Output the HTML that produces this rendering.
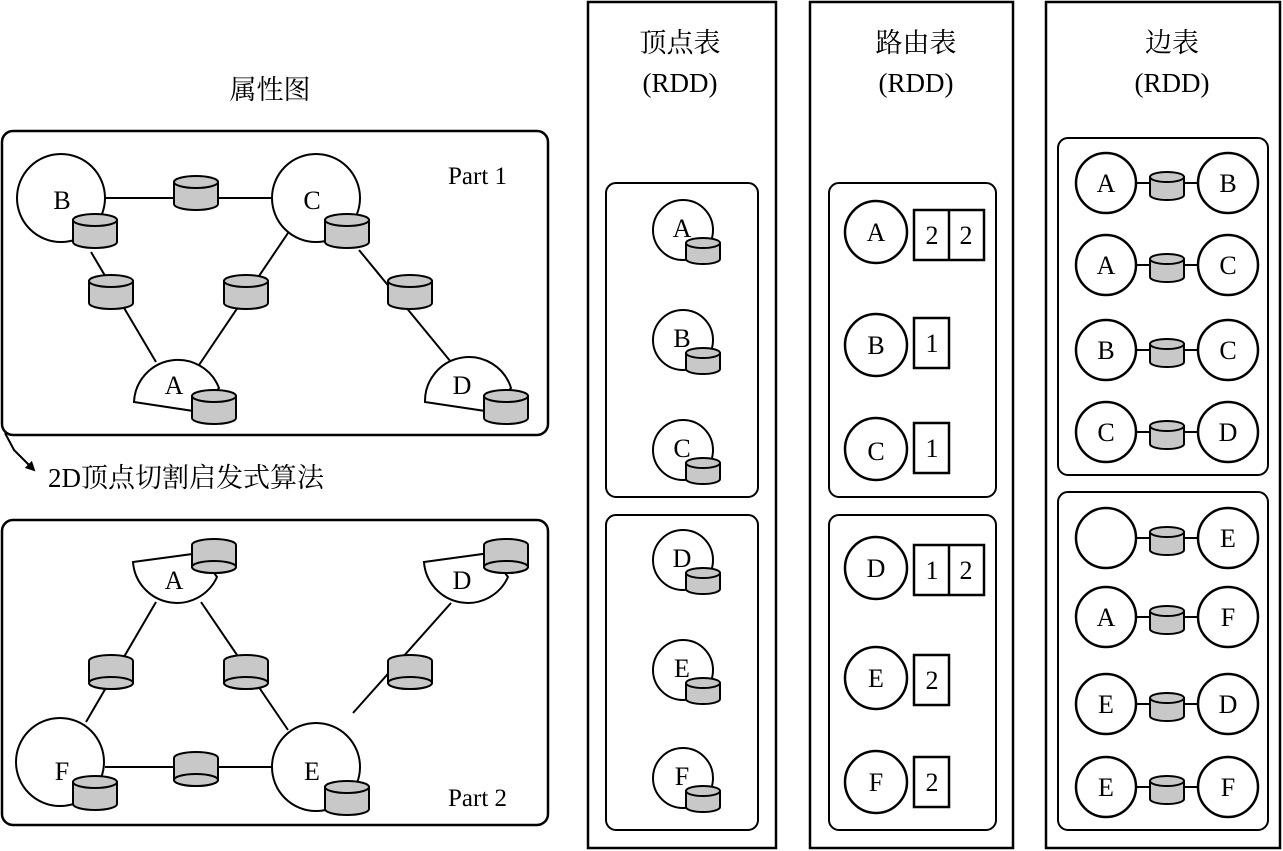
<!DOCTYPE html>
<html><head><meta charset="utf-8"><style>
html,body{margin:0;padding:0;background:#fff;}
svg{display:block;}
text{font-family:"Liberation Serif","Noto Serif CJK SC",serif;fill:#000;}
.cn{font-family:"Liberation Serif","Noto Serif CJK SC","Noto Sans CJK SC",serif;}
</style></head><body>
<svg width="1283" height="851" viewBox="0 0 1283 851" xmlns="http://www.w3.org/2000/svg">
<defs>
<g id="cy"><path d="M-22,-11 V11 A22,6 0 0 0 22,11 V-11 Z" fill="#c8c8c8" stroke="#000" stroke-width="2"/><ellipse cx="0" cy="-11" rx="22" ry="6" fill="#c8c8c8" stroke="#000" stroke-width="2"/></g>
<g id="cyb"><path d="M-22,-11 A22,6 0 0 1 22,-11 V11 A22,6 0 0 1 -22,11 Z" fill="#c8c8c8" stroke="#000" stroke-width="2"/><ellipse cx="0" cy="11" rx="22" ry="6" fill="#c8c8c8" stroke="#000" stroke-width="2"/></g>
<g id="cs"><path d="M-17,-8 V8 A17,5 0 0 0 17,8 V-8 Z" fill="#c8c8c8" stroke="#000" stroke-width="2"/><ellipse cx="0" cy="-8" rx="17" ry="5" fill="#c8c8c8" stroke="#000" stroke-width="2"/></g>
<g id="ce"><path d="M-17,-9 V9 A17,5 0 0 0 17,9 V-9 Z" fill="#c8c8c8" stroke="#000" stroke-width="2"/><ellipse cx="0" cy="-9" rx="17" ry="5" fill="#c8c8c8" stroke="#000" stroke-width="2"/></g>
<marker id="ah" markerWidth="10" markerHeight="10" refX="8" refY="5" orient="auto" markerUnits="userSpaceOnUse"><path d="M0,0 L10,5 L0,10 Z" fill="#000"/></marker>
</defs>
<g fill="none" stroke="#000" stroke-width="2">
<!-- left boxes -->
<rect x="2" y="131" width="546" height="304" rx="11" stroke-width="2.5"/>
<rect x="2" y="520" width="546" height="305" rx="11" stroke-width="2.5"/>
<!-- columns -->
<rect x="588" y="2" width="188" height="846" stroke-width="2.5"/>
<rect x="810" y="2" width="203" height="846" stroke-width="2.5"/>
<rect x="1046" y="2" width="234" height="846" stroke-width="2.5"/>
<rect x="606" y="183" width="152" height="314" rx="10"/>
<rect x="606" y="515" width="152" height="315" rx="10"/>
<rect x="829" y="183" width="167" height="314" rx="10"/>
<rect x="829" y="515" width="167" height="315" rx="10"/>
<rect x="1058" y="138" width="210" height="337" rx="10"/>
<rect x="1058" y="492" width="210" height="338" rx="10"/>
<!-- part1 lines -->
<line x1="105" y1="198" x2="272" y2="198"/>
<line x1="91" y1="252" x2="156" y2="362"/>
<line x1="288" y1="233" x2="199" y2="365"/>
<line x1="359" y1="250" x2="451" y2="362"/>
<!-- part2 lines -->
<line x1="156" y1="602" x2="86" y2="722"/>
<line x1="201" y1="602" x2="288" y2="730"/>
<line x1="451" y1="603" x2="353" y2="713"/>
<line x1="105" y1="767" x2="272" y2="767"/>
<!-- arrow -->
<path d="M5,433 L14,450 L34,470" marker-end="url(#ah)"/>
</g>
<g fill="#fff" stroke="#000" stroke-width="2">
<circle cx="61" cy="198" r="44"/>
<circle cx="316" cy="198" r="44"/>
<path d="M134,402 A44,44 0 0 1 219,388 L200,412 Z"/>
<path d="M425,402 A44,44 0 0 1 511,388 L492,412 Z"/>
<path d="M133,562 L200,553 L217,577 A44,44 0 0 1 133,562 Z"/>
<path d="M424,562 L490,553 L508,577 A44,44 0 0 1 424,562 Z"/>
<circle cx="60" cy="762" r="44"/>
<circle cx="316" cy="767" r="44"/>
</g>
<use href="#cy" x="196" y="193"/><use href="#cy" x="95" y="231"/><use href="#cy" x="347" y="231"/>
<use href="#cy" x="111" y="292"/><use href="#cy" x="246" y="292"/><use href="#cy" x="410" y="292"/>
<use href="#cy" x="214" y="407"/><use href="#cy" x="506" y="407"/>
<use href="#cyb" x="214" y="556"/><use href="#cyb" x="506" y="556"/>
<use href="#cyb" x="111" y="672"/><use href="#cyb" x="246" y="672"/><use href="#cyb" x="410" y="672"/>
<use href="#cyb" x="196" y="769"/>
<use href="#cy" x="95" y="793"/><use href="#cy" x="347" y="798"/>
<g font-size="26" text-anchor="middle">
<text x="62" y="209">B</text><text x="312" y="209">C</text>
<text x="174" y="394">A</text><text x="462" y="394">D</text>
<text x="174" y="589">A</text><text x="462" y="589">D</text>
<text x="62" y="780">F</text><text x="312" y="780">E</text>
</g>
<text x="448" y="184" font-size="25">Part 1</text>
<text x="448" y="806" font-size="25">Part 2</text>
<text x="270" y="99" font-size="27" text-anchor="middle" class="cn">属性图</text>
<text x="48" y="487" font-size="27" class="cn">2D顶点切割启发式算法</text>
<!-- column titles -->
<g font-size="27" text-anchor="middle" class="cn">
<text x="680" y="52">顶点表</text><text x="680" y="92">(RDD)</text>
<text x="916" y="52">路由表</text><text x="916" y="92">(RDD)</text>
<text x="1172" y="52">边表</text><text x="1172" y="92">(RDD)</text>
</g>
<!-- vertex table -->
<g fill="#fff" stroke="#000" stroke-width="2">
<circle cx="683" cy="230" r="30"/><circle cx="683" cy="340" r="30"/><circle cx="683" cy="450" r="30"/>
<circle cx="683" cy="560" r="30"/><circle cx="683" cy="670" r="30"/><circle cx="683" cy="778" r="30"/>
</g>
<use href="#cs" x="703" y="251"/><use href="#cs" x="703" y="361"/><use href="#cs" x="703" y="471"/>
<use href="#cs" x="703" y="581"/><use href="#cs" x="703" y="691"/><use href="#cs" x="703" y="799"/>
<g font-size="26" text-anchor="middle">
<text x="682" y="237">A</text><text x="682" y="347">B</text><text x="682" y="457">C</text>
<text x="682" y="567">D</text><text x="682" y="677">E</text><text x="682" y="785">F</text>
</g>
<!-- routing table -->
<g fill="#fff" stroke="#000" stroke-width="2.5">
<circle cx="876" cy="232" r="31"/><circle cx="876" cy="345" r="31"/><circle cx="876" cy="449" r="31"/>
<circle cx="876" cy="568" r="31"/><circle cx="876" cy="678" r="31"/><circle cx="876" cy="782" r="31"/>
<rect x="914" y="210" width="70" height="50"/><line x1="949" y1="210" x2="949" y2="260"/>
<rect x="914" y="318" width="35" height="50"/>
<rect x="914" y="423" width="35" height="50"/>
<rect x="914" y="545" width="70" height="50"/><line x1="949" y1="545" x2="949" y2="595"/>
<rect x="914" y="655" width="35" height="50"/>
<rect x="914" y="757" width="35" height="50"/>
</g>
<g font-size="26" text-anchor="middle">
<text x="876" y="241">A</text><text x="876" y="354">B</text><text x="876" y="460">C</text>
<text x="876" y="577">D</text><text x="876" y="687">E</text><text x="876" y="791">F</text>
<text x="932" y="244">2</text><text x="966" y="244">2</text>
<text x="932" y="352">1</text><text x="932" y="457">1</text>
<text x="932" y="579">1</text><text x="966" y="579">2</text>
<text x="932" y="689">2</text><text x="932" y="791">2</text>
</g>
<!-- edge table -->
<g stroke="#000" stroke-width="2">
<line x1="1137" y1="183" x2="1198" y2="183"/><line x1="1137" y1="265" x2="1198" y2="265"/>
<line x1="1137" y1="350" x2="1198" y2="350"/><line x1="1137" y1="432" x2="1198" y2="432"/>
<line x1="1137" y1="538" x2="1198" y2="538"/><line x1="1137" y1="617" x2="1198" y2="617"/>
<line x1="1137" y1="704" x2="1198" y2="704"/><line x1="1137" y1="787" x2="1198" y2="787"/>
</g>
<g fill="#fff" stroke="#000" stroke-width="2.5">
<circle cx="1106" cy="183" r="30"/><circle cx="1228" cy="183" r="30"/>
<circle cx="1106" cy="265" r="30"/><circle cx="1228" cy="265" r="30"/>
<circle cx="1106" cy="350" r="30"/><circle cx="1228" cy="350" r="30"/>
<circle cx="1106" cy="432" r="30"/><circle cx="1228" cy="432" r="30"/>
<circle cx="1106" cy="538" r="30"/><circle cx="1228" cy="538" r="30"/>
<circle cx="1106" cy="617" r="30"/><circle cx="1228" cy="617" r="30"/>
<circle cx="1106" cy="704" r="30"/><circle cx="1228" cy="704" r="30"/>
<circle cx="1106" cy="787" r="30"/><circle cx="1228" cy="787" r="30"/>
</g>
<use href="#ce" x="1167" y="186"/><use href="#ce" x="1167" y="268"/><use href="#ce" x="1167" y="353"/><use href="#ce" x="1167" y="435"/>
<use href="#ce" x="1167" y="541"/><use href="#ce" x="1167" y="620"/><use href="#ce" x="1167" y="707"/><use href="#ce" x="1167" y="790"/>
<g font-size="26" text-anchor="middle">
<text x="1106" y="192">A</text><text x="1228" y="192">B</text>
<text x="1106" y="274">A</text><text x="1228" y="274">C</text>
<text x="1106" y="359">B</text><text x="1228" y="359">C</text>
<text x="1106" y="441">C</text><text x="1228" y="441">D</text>
<text x="1228" y="547">E</text>
<text x="1106" y="626">A</text><text x="1228" y="626">F</text>
<text x="1106" y="713">E</text><text x="1228" y="713">D</text>
<text x="1106" y="796">E</text><text x="1228" y="796">F</text>
</g>
</svg>
</body></html>
